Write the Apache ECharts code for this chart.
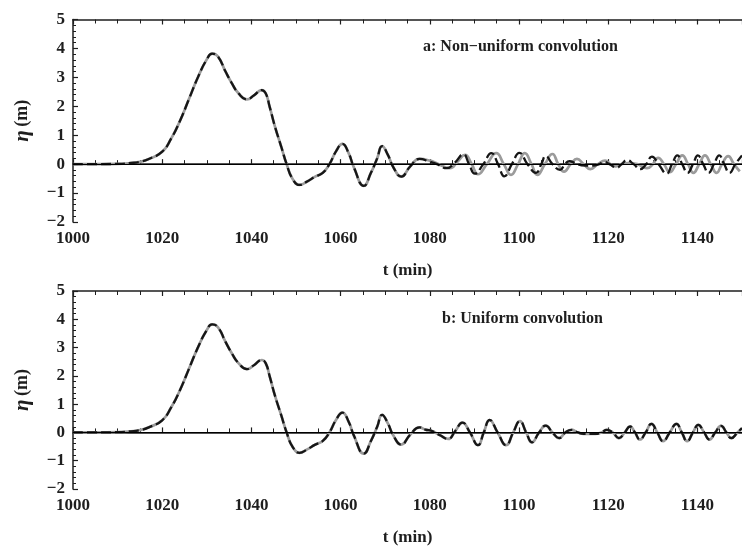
<!DOCTYPE html>
<html><head><meta charset="utf-8">
<script src="https://cdn.jsdelivr.net/npm/echarts@6/dist/echarts.min.js"></script>
<style>html,body{margin:0;padding:0;background:#fff}#c{width:742px;height:547px}</style>
</head><body><div id="c"></div>
<script>
// ---- data (t in min, eta in m) ----
const panelTitles = ['a: Non\u2212uniform convolution', 'b: Uniform convolution'];
const xAxisTitle = 't (min)';

// main wave, common to every curve
const hump = [[1000,0],[1005,0],[1010,0.01],[1013,0.04],[1015,0.08],[1017,0.18],[1020,0.43],[1022,0.88],[1024,1.5],[1026,2.25],[1028,3.0],[1030,3.62],[1031.2,3.82],[1032.5,3.72],[1034.2,3.2],[1035.6,2.8],[1037.1,2.45],[1039,2.24],[1040.6,2.38],[1042.3,2.56],[1043.2,2.45],[1044.1,1.98],[1045.3,1.29],[1046.7,0.6],[1047.9,0],[1049.2,-0.5],[1050.8,-0.72],[1052.5,-0.6],[1054.2,-0.44],[1056,-0.3],[1057.5,0],[1059,0.45],[1060.4,0.7],[1061.8,0.38],[1063,-0.12],[1065.2,-0.75],[1066.8,-0.3],[1068.2,0.2],[1069.3,0.62],[1070.6,0.32],[1071.8,-0.1],[1073.6,-0.43],[1075.6,-0.08],[1077.7,0.18]];

// panel a, solid grey curve after the main wave
const topGrayTail = [[1080,0.12],[1082,0.0],[1084.5,-0.14],[1086.3,0.1],[1087.9,0.32],[1089.4,0],[1090.8,-0.35],[1092.8,0],[1094.9,0.38],[1096.6,0],[1098.2,-0.37],[1099.8,0],[1101.3,0.38],[1102.8,0],[1104.1,-0.37],[1105.8,0],[1107.5,0.35],[1108.8,0],[1110.1,-0.26],[1111.6,0],[1113,0.18],[1114.5,0],[1116,-0.17],[1117.7,0],[1119.3,0.12],[1120.5,0],[1121.6,-0.08],[1123,0],[1124.5,0.04],[1126.5,0.0],[1128.7,-0.14],[1130,0],[1131.2,0.22],[1132.5,0],[1133.8,-0.28],[1135.2,0],[1136.6,0.3],[1137.9,0],[1139.1,-0.3],[1140.4,0],[1141.7,0.3],[1143,0],[1144.3,-0.3],[1145.5,0],[1146.9,0.28],[1148.2,0],[1149.5,-0.25]];

// panel a, dashed black curve after the main wave
const topDashTail = [[1080,0.08],[1081.6,0],[1083.8,-0.14],[1085.6,0.05],[1087.5,0.34],[1088.8,0],[1090.1,-0.33],[1092,0],[1093.8,0.38],[1095.3,0],[1096.7,-0.42],[1098.4,0],[1100.1,0.39],[1101.9,0],[1103.8,-0.3],[1105,0],[1106,0.28],[1107.5,0],[1109.2,-0.2],[1110.3,0],[1111.3,0.1],[1112.8,0.02],[1114,-0.04],[1116.5,-0.05],[1118,0],[1119,0.08],[1120.3,0],[1121.9,-0.12],[1123,0],[1124.2,0.14],[1125.7,0],[1127.2,-0.17],[1128.5,0],[1129.8,0.26],[1131.3,0],[1133.1,-0.33],[1134.3,0],[1135.5,0.3],[1136.6,0],[1137.8,-0.3],[1139,0],[1140.1,0.3],[1141.3,0],[1142.5,-0.3],[1143.7,0],[1144.9,0.3],[1146,0],[1147.2,-0.3],[1148.5,0],[1150,0.3]];

// panel b, both curves coincide
const bottomTail = [[1079,0.1],[1080.5,0.05],[1082.3,-0.1],[1084.1,-0.23],[1085.7,0.05],[1087.3,0.35],[1089,0.0],[1090.8,-0.45],[1092.1,0],[1093.4,0.44],[1095.2,0],[1097.1,-0.45],[1098.7,0],[1100.2,0.40],[1101.6,0],[1102.9,-0.35],[1104.5,0],[1106,0.24],[1107.5,0],[1109,-0.2],[1110.4,0],[1111.8,0.09],[1113.2,0],[1114.5,-0.05],[1117.1,-0.05],[1118.5,0],[1119.7,0.09],[1121,0],[1122.4,-0.2],[1123.7,0],[1124.9,0.21],[1126,0],[1127.1,-0.25],[1128.4,0],[1129.7,0.3],[1131,0],[1132.3,-0.31],[1133.8,0],[1135.3,0.3],[1136.5,0],[1137.7,-0.31],[1139,0],[1140.2,0.27],[1141.5,0],[1142.7,-0.25],[1144,0],[1145.3,0.23],[1146.5,0],[1147.6,-0.2],[1149,0],[1150,0.15]];

// ---- chart ----
const FONT = 'Liberation Serif';
const INK = '#1e1e1e';
const grids = [
  {left: 73, top: 19.5, width: 675, height: 202.5},
  {left: 73, top: 291, width: 675, height: 202.5}
];
const minus = v => String(v).replace('-', '\u2212');
const plain = v => String(v);

const xAxes = [], yAxes = [], series = [];
grids.forEach((g, i) => {
  const base = {
    type: 'value', gridIndex: i, min: 1000, max: 1150, interval: 20,
    splitLine: {show: false},
    axisLine: {show: true, lineStyle: {color: INK, width: 1.5}},
    axisTick: {inside: true, length: 5, lineStyle: {color: INK, width: 1.2}},
    minorTick: {show: true, splitNumber: 4, length: 4, lineStyle: {color: INK, width: 1}}
  };
  xAxes.push(Object.assign({}, base, {
    position: 'bottom',
    axisLabel: {fontFamily: FONT, fontWeight: 'bold', fontSize: 17, color: INK, margin: 8, showMaxLabel: false, formatter: plain},
    name: xAxisTitle, nameLocation: 'middle', nameGap: 40,
    nameTextStyle: {fontFamily: FONT, fontWeight: 'bold', fontSize: 17, color: INK}
  }));
  xAxes.push(Object.assign({}, base, {position: 'top', axisLabel: {show: false}}));
  yAxes.push({
    type: 'value', gridIndex: i, min: -2, max: 5, interval: 1,
    splitLine: {show: false},
    axisLine: {show: true, lineStyle: {color: INK, width: 1.5}},
    axisTick: {inside: true, length: 5, lineStyle: {color: INK, width: 1.2}},
    minorTick: {show: true, splitNumber: 5, length: 3, lineStyle: {color: INK, width: 1}},
    axisLabel: {fontFamily: FONT, fontWeight: 'bold', fontSize: 17, color: INK, margin: 8, formatter: minus},
    name: '{i|\u03b7} {b|(m)}', nameLocation: 'middle', nameGap: 40, nameRotate: 90,
    nameTextStyle: {rich: {
      i: {fontFamily: FONT, fontStyle: 'italic', fontWeight: 'bold', fontSize: 21, color: INK},
      b: {fontFamily: FONT, fontWeight: 'bold', fontSize: 18, color: INK}
    }}
  });
  const grayData = hump.concat(i === 0 ? topGrayTail : bottomTail);
  const dashData = hump.concat(i === 0 ? topDashTail : bottomTail);
  series.push({
    type: 'line', xAxisIndex: 2 * i, yAxisIndex: i, data: grayData,
    showSymbol: false, smooth: 0.5, animation: false, silent: true,
    lineStyle: {color: '#9b9b9b', width: 2.7},
    markLine: {silent: true, symbol: ['none', 'none'], animation: false, label: {show: false},
      lineStyle: {color: '#000', width: 1, type: 'solid'}, data: [{yAxis: 0}]}
  });
  series.push({
    type: 'line', xAxisIndex: 2 * i, yAxisIndex: i, data: dashData,
    showSymbol: false, smooth: 0.5, animation: false, silent: true,
    lineStyle: {color: '#161616', width: 2.3, type: [10, 4]}
  });
});

const chart = echarts.init(document.getElementById('c'), null, {renderer: 'canvas'});
chart.setOption({
  backgroundColor: '#fff',
  animation: false,
  grid: grids,
  xAxis: xAxes,
  yAxis: yAxes,
  series: series,
  graphic: [
    {type: 'text', left: 423, top: 39, style: {text: panelTitles[0], font: 'bold 16px "Liberation Serif"', fill: INK}},
    {type: 'text', left: 442, top: 311, style: {text: panelTitles[1], font: 'bold 16px "Liberation Serif"', fill: INK}}
  ]
});
</script>
</body></html>
